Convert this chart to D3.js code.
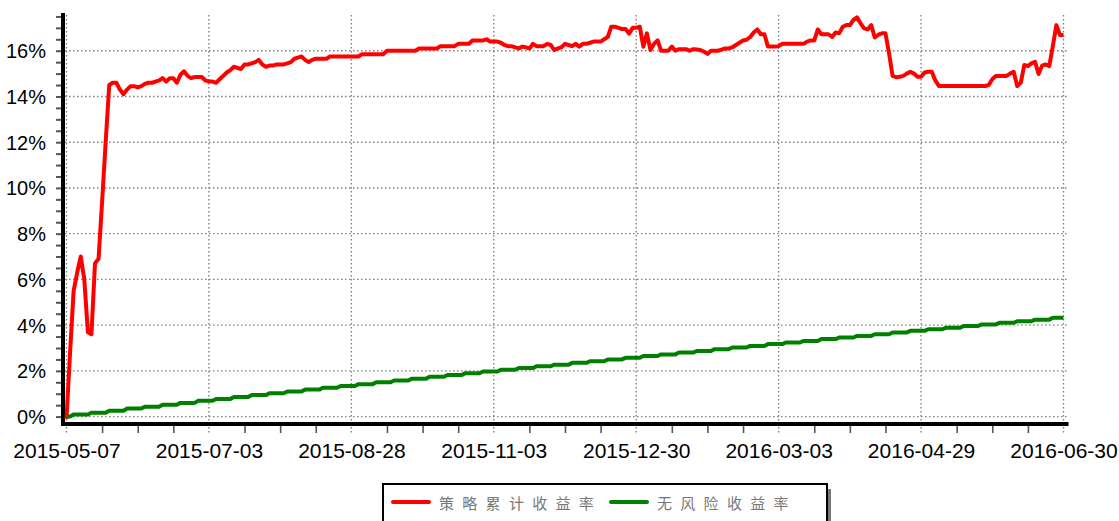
<!DOCTYPE html>
<html>
<head>
<meta charset="utf-8">
<script src="https://cdn.jsdelivr.net/npm/d3@7"></script>
<style>
  html, body { margin: 0; padding: 0; background: #fff; }
  svg { display: block; font-family: "Liberation Sans", Arial, sans-serif; }
</style>
</head>
<body>
<svg id="chart" width="1119" height="521"></svg>
<script>
'use strict'

// x axis is trading-day index, a label every 40 days
const tickLabels = ['2015-05-07', '2015-07-03', '2015-08-28', '2015-11-03',
                    '2015-12-30', '2016-03-03', '2016-04-29', '2016-06-30']
const tickEvery = 40
const minorEvery = 10
const yTicks = [0, 2, 4, 6, 8, 10, 12, 14, 16]
const seriesNames = ['策略累计收益率', '无风险收益率']

// cumulative returns in %, one value per trading day
const strategy = [
  -0.1, 2.8, 5.5, 6.3, 7.0, 6.0, 3.7, 3.6, 6.7, 6.9,
  9.4, 12.0, 14.5, 14.6, 14.6, 14.3, 14.1, 14.3, 14.45, 14.45,
  14.4, 14.45, 14.55, 14.6, 14.6, 14.65, 14.7, 14.8, 14.65, 14.8,
  14.8, 14.6, 14.95, 15.1, 14.9, 14.8, 14.85, 14.85, 14.85, 14.7,
  14.65, 14.65, 14.6, 14.75, 14.9, 15.05, 15.15, 15.3, 15.25, 15.2,
  15.4, 15.4, 15.45, 15.5, 15.6, 15.4, 15.3, 15.35, 15.35, 15.4,
  15.4, 15.4, 15.45, 15.5, 15.65, 15.7, 15.75, 15.6, 15.5, 15.6,
  15.65, 15.65, 15.65, 15.65, 15.75, 15.75, 15.75, 15.75, 15.75, 15.75,
  15.75, 15.75, 15.75, 15.85, 15.85, 15.85, 15.85, 15.85, 15.85, 15.85,
  16.0, 16.0, 16.0, 16.0, 16.0, 16.0, 16.0, 16.0, 16.0, 16.1,
  16.1, 16.1, 16.1, 16.1, 16.1, 16.2, 16.2, 16.2, 16.2, 16.2,
  16.3, 16.3, 16.3, 16.3, 16.45, 16.45, 16.45, 16.45, 16.5, 16.4,
  16.4, 16.4, 16.35, 16.25, 16.2, 16.2, 16.15, 16.1, 16.18, 16.15,
  16.1, 16.3, 16.2, 16.2, 16.2, 16.3, 16.25, 16.03, 16.1, 16.15,
  16.3, 16.25, 16.2, 16.3, 16.18, 16.3, 16.3, 16.35, 16.4, 16.4,
  16.4, 16.5, 16.6, 17.05, 17.05, 17.0, 16.95, 16.95, 16.75, 17.0,
  17.0, 17.05, 16.18, 16.76, 16.03, 16.3, 16.45, 16.0, 16.0, 16.0,
  16.18, 16.0, 16.07, 16.07, 16.07, 16.0, 16.07, 16.05, 16.03, 15.96,
  15.86, 16.0, 16.0, 16.0, 16.05, 16.1, 16.1, 16.15, 16.25, 16.35,
  16.45, 16.48, 16.6, 16.8, 16.93, 16.72, 16.72, 16.18, 16.18, 16.18,
  16.2, 16.3, 16.3, 16.3, 16.3, 16.3, 16.3, 16.3, 16.4, 16.45,
  16.45, 16.93, 16.72, 16.72, 16.72, 16.6, 16.8, 16.76, 17.05, 17.12,
  17.12, 17.35, 17.46, 17.2, 16.98, 16.93, 17.12, 16.58, 16.7, 16.76,
  16.76, 15.89, 14.9, 14.84, 14.86, 14.9, 15.0, 15.08, 15.0, 14.86,
  14.86, 15.05, 15.08, 15.08, 14.7, 14.46, 14.46, 14.46, 14.46, 14.46,
  14.46, 14.46, 14.46, 14.46, 14.46, 14.46, 14.46, 14.46, 14.46, 14.5,
  14.75, 14.9, 14.9, 14.9, 14.9, 15.0, 15.08, 14.46, 14.6, 15.38,
  15.33, 15.45, 15.52, 14.98, 15.35, 15.4, 15.33, 16.2, 17.12, 16.69,
  16.69
]

const riskFree = [
  0, 0,
  0.09, 0.09, 0.09, 0.09, 0.09, 0.17, 0.17, 0.17, 0.17, 0.17,
  0.26, 0.26, 0.26, 0.26, 0.26, 0.35, 0.35, 0.35, 0.35, 0.35,
  0.43, 0.43, 0.43, 0.43, 0.43, 0.52, 0.52, 0.52, 0.52, 0.52,
  0.60, 0.60, 0.60, 0.60, 0.60, 0.69, 0.69, 0.69, 0.69, 0.69,
  0.77, 0.77, 0.77, 0.77, 0.77, 0.86, 0.86, 0.86, 0.86, 0.86,
  0.94, 0.94, 0.94, 0.94, 0.94, 1.02, 1.02, 1.02, 1.02, 1.02,
  1.10, 1.10, 1.10, 1.10, 1.10, 1.18, 1.18, 1.18, 1.18, 1.18,
  1.26, 1.26, 1.26, 1.26, 1.26, 1.34, 1.34, 1.34, 1.34, 1.34,
  1.42, 1.42, 1.42, 1.42, 1.42, 1.50, 1.50, 1.50, 1.50, 1.50,
  1.58, 1.58, 1.58, 1.58, 1.58, 1.66, 1.66, 1.66, 1.66, 1.66,
  1.74, 1.74, 1.74, 1.74, 1.74, 1.82, 1.82, 1.82, 1.82, 1.82,
  1.90, 1.90, 1.90, 1.90, 1.90, 1.97, 1.97, 1.97, 1.97, 1.97,
  2.05, 2.05, 2.05, 2.05, 2.05, 2.12, 2.12, 2.12, 2.12, 2.12,
  2.20, 2.20, 2.20, 2.20, 2.20, 2.27, 2.27, 2.27, 2.27, 2.27,
  2.35, 2.35, 2.35, 2.35, 2.35, 2.42, 2.42, 2.42, 2.42, 2.42,
  2.50, 2.50, 2.50, 2.50, 2.50, 2.57, 2.57, 2.57, 2.57, 2.57,
  2.65, 2.65, 2.65, 2.65, 2.65, 2.72, 2.72, 2.72, 2.72, 2.72,
  2.80, 2.80, 2.80, 2.80, 2.80, 2.87, 2.87, 2.87, 2.87, 2.87,
  2.95, 2.95, 2.95, 2.95, 2.95, 3.02, 3.02, 3.02, 3.02, 3.02,
  3.09, 3.09, 3.09, 3.09, 3.09, 3.17, 3.17, 3.17, 3.17, 3.17,
  3.24, 3.24, 3.24, 3.24, 3.24, 3.31, 3.31, 3.31, 3.31, 3.31,
  3.39, 3.39, 3.39, 3.39, 3.39, 3.46, 3.46, 3.46, 3.46, 3.46,
  3.53, 3.53, 3.53, 3.53, 3.53, 3.60, 3.60, 3.60, 3.60, 3.60,
  3.68, 3.68, 3.68, 3.68, 3.68, 3.75, 3.75, 3.75, 3.75, 3.75,
  3.82, 3.82, 3.82, 3.82, 3.82, 3.89, 3.89, 3.89, 3.89, 3.89,
  3.96, 3.96, 3.96, 3.96, 3.96, 4.03, 4.03, 4.03, 4.03, 4.03,
  4.10, 4.10, 4.10, 4.10, 4.10, 4.17, 4.17, 4.17, 4.17, 4.17,
  4.24, 4.24, 4.24, 4.24, 4.24,
  4.32, 4.32, 4.32, 4.32
]

const cfg = {
  left: 66.5,     // x of first trading day
  right: 1063.5,  // x of last trading day
  top: 13,
  bottom: 423,
  yMin: -0.28,
  yMax: 17.65,
  axisX: 63,      // black y axis line
  axisY: 424,     // black x axis line
  gridColor: '#808080',
  tickColor: '#555',
  yFontSize: 20,
  xFontSize: 21,
  colors: ['#ff0000', '#008000'],
  lineWidth: 4,
}

const svg = d3.select('#chart')
const lastIdx = (tickLabels.length - 1) * tickEvery

const x = d3.scaleLinear().domain([0, lastIdx]).range([cfg.left, cfg.right])
const y = d3.scaleLinear().domain([cfg.yMin, cfg.yMax]).range([cfg.bottom, cfg.top])

// grid
const grid = svg.append('g').attr('class', 'grid')
grid.selectAll('.hgrid').data(yTicks).enter().append('line')
  .attr('x1', cfg.axisX + 2).attr('x2', cfg.right + 4)
  .attr('y1', d => y(d)).attr('y2', d => y(d))
grid.selectAll('.vgrid').data(d3.range(0, lastIdx + 1, tickEvery)).enter().append('line')
  .attr('x1', d => x(d)).attr('x2', d => x(d))
  .attr('y1', cfg.top + 2).attr('y2', cfg.axisY + 11)
grid.selectAll('line')
  .attr('stroke', cfg.gridColor)
  .attr('stroke-width', 1.4)
  .attr('stroke-dasharray', '1.5,2.5')

// y axis: minor ticks every 0.5%, labels on the grid values
const yAxis = d3.axisLeft(y)
  .tickValues(d3.range(0, cfg.yMax, 0.5))
  .tickSize(6)
  .tickPadding(10)
  .tickFormat(d => yTicks.includes(d) ? d + '%' : '')
const gy = svg.append('g')
  .attr('transform', `translate(${cfg.axisX - 1},0)`)
  .call(yAxis)
gy.select('.domain').remove()
gy.selectAll('.tick line').attr('stroke', cfg.tickColor).attr('stroke-width', 2)
gy.selectAll('.tick text')
  .attr('font-size', cfg.yFontSize)
  .attr('font-family', '"Liberation Sans", Arial, sans-serif')
  .attr('fill', '#000')
  .attr('dy', '0.35em')

// x axis: minor ticks every 10 trading days, labels every 40
const xAxis = d3.axisBottom(x)
  .tickValues(d3.range(0, lastIdx + 1, minorEvery))
  .tickSize(8)
  .tickPadding(10)
  .tickFormat(d => d % tickEvery === 0 ? tickLabels[d / tickEvery] : '')
const gx = svg.append('g')
  .attr('transform', `translate(0,${cfg.axisY + 1})`)
  .call(xAxis)
gx.select('.domain').remove()
gx.selectAll('.tick line')
  .attr('stroke', cfg.tickColor).attr('stroke-width', 1.6)
  .attr('display', d => d % tickEvery === 0 ? 'none' : null)
gx.selectAll('.tick text')
  .attr('font-size', cfg.xFontSize)
  .attr('font-family', '"Liberation Sans", Arial, sans-serif')
  .attr('fill', '#000')

// heavy black axis lines
svg.append('line')
  .attr('x1', cfg.axisX).attr('x2', cfg.axisX)
  .attr('y1', cfg.top).attr('y2', cfg.axisY + 2)
  .attr('stroke', '#000').attr('stroke-width', 4)
svg.append('line')
  .attr('x1', cfg.axisX - 2).attr('x2', cfg.right + 5)
  .attr('y1', cfg.axisY).attr('y2', cfg.axisY)
  .attr('stroke', '#000').attr('stroke-width', 4)

// series
const line = d3.line()
  .x((d, i) => x(i))
  .y(d => y(d))

const lines = svg.append('g').attr('class', 'lines')
;[strategy, riskFree].forEach((data, k) => {
  lines.append('path').datum(data)
    .attr('d', line)
    .attr('fill', 'none')
    .attr('stroke', cfg.colors[k])
    .attr('stroke-width', cfg.lineWidth)
    .attr('stroke-linejoin', 'round')
})

// legend box with drop shadow
const lg = svg.append('g').attr('class', 'legend')
const box = {x: 383, y: 484, w: 444, h: 38}
lg.append('rect')
  .attr('x', box.x + 4).attr('y', box.y + 5)
  .attr('width', box.w).attr('height', box.h)
  .attr('fill', '#777')
lg.append('rect')
  .attr('x', box.x).attr('y', box.y)
  .attr('width', box.w).attr('height', box.h)
  .attr('fill', '#fff').attr('stroke', '#000').attr('stroke-width', 2)

const itemX = [393, 611]
seriesNames.forEach((name, k) => {
  lg.append('line')
    .attr('x1', itemX[k]).attr('x2', itemX[k] + 36)
    .attr('y1', 502).attr('y2', 502)
    .attr('stroke', cfg.colors[k]).attr('stroke-width', 4)
    .attr('stroke-linecap', 'round')
  lg.append('text')
    .attr('x', itemX[k] + 46).attr('y', 502)
    .attr('dominant-baseline', 'central')
    .attr('font-family', '"Noto Sans CJK SC", sans-serif')
    .attr('font-size', 15)
    .attr('letter-spacing', '8.3px')
    .attr('fill', '#777')
    .text(name)
})
</script>
</body>
</html>
